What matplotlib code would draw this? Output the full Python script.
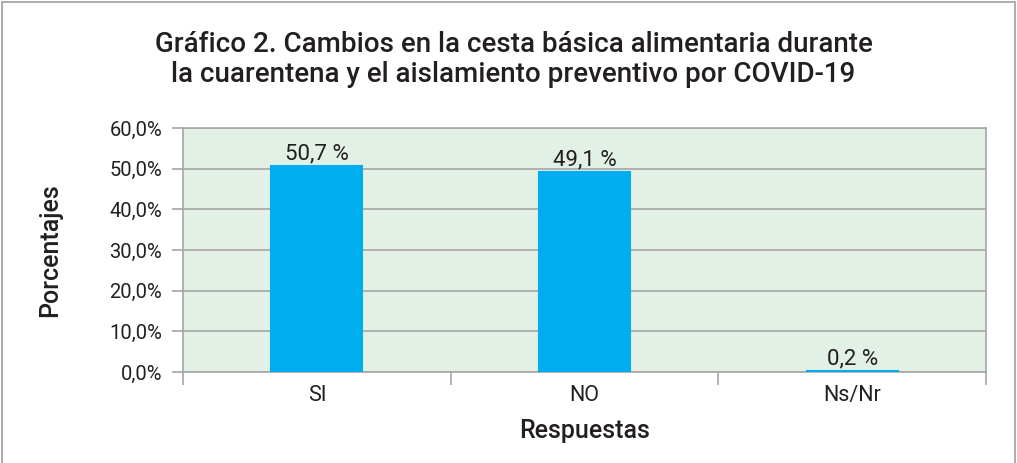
import matplotlib.pyplot as plt
from matplotlib.ticker import FixedLocator, NullFormatter, FuncFormatter
from matplotlib.patches import Rectangle

# Data
categories = ['SI', 'NO', 'Ns/Nr']
values = [50.7, 49.1, 0.2]
value_labels = ['50,7 %', '49,1 %', '0,2 %']
y_ticks = [0, 10, 20, 30, 40, 50, 60]

plt.rcParams['font.family'] = ['Roboto', 'DejaVu Sans']

fig = plt.figure(figsize=(10.17, 4.63), dpi=100)
ax = fig.add_axes([0.18, 0.1965, 0.7895, 0.527])

# Outer frame
fig.patches.append(Rectangle((0.002, -0.01), 0.996, 1.005, transform=fig.transFigure,
                             fill=False, edgecolor='#A0A0A0', linewidth=1.2))

x = range(len(categories))
ax.set_facecolor('#E2F0E6')
ax.bar(x, values, width=0.34, color='#00AEEF', edgecolor='#00AEEF',
       linewidth=1.5, zorder=3)
for xi, v, lab in zip(x, values, value_labels):
    ax.text(xi, v + 0.4, lab, ha='center', va='bottom', fontsize=16, color='#231F20')

ax.set_xlim(-0.5, len(categories) - 0.5)
ax.set_ylim(0, 60)
ax.set_yticks(y_ticks)
ax.yaxis.set_major_formatter(FuncFormatter(lambda v, p: f'{v:.1f}%'.replace('.', ',')))
ax.grid(axis='y', color='#A6A6A6', linewidth=1.2, zorder=0)

# category ticks at boundaries, labels centered
ax.xaxis.set_major_locator(FixedLocator([-0.5, 0.5, 1.5, 2.5]))
ax.xaxis.set_major_formatter(NullFormatter())
ax.xaxis.set_minor_locator(FixedLocator(list(x)))
ax.set_xticklabels(categories, minor=True)
ax.tick_params(axis='x', which='major', length=9, width=1.2, color='#A6A6A6')
ax.tick_params(axis='x', which='minor', length=0, labelsize=15.5, labelcolor='#231F20', pad=9)
ax.tick_params(axis='y', length=8, width=1.2, color='#A6A6A6', labelsize=14.5,
               labelcolor='#231F20', pad=7)

for s in ax.spines.values():
    s.set_color('#A6A6A6')
    s.set_linewidth(1.2)

ax.set_ylabel('Porcentajes', fontsize=18, fontweight='medium', color='#231F20', labelpad=34)
ax.set_xlabel('Respuestas', fontsize=18, fontweight='medium', color='#231F20', labelpad=10)

fig.text(0.505, 0.872, 'Gráfico 2. Cambios en la cesta básica alimentaria durante\n'
         'la cuarentena y el aislamiento preventivo por COVID-19',
         ha='center', va='center', fontsize=20, fontweight='medium', color='#231F20',
         linespacing=1.15)

fig.savefig('out.png', dpi=100)
